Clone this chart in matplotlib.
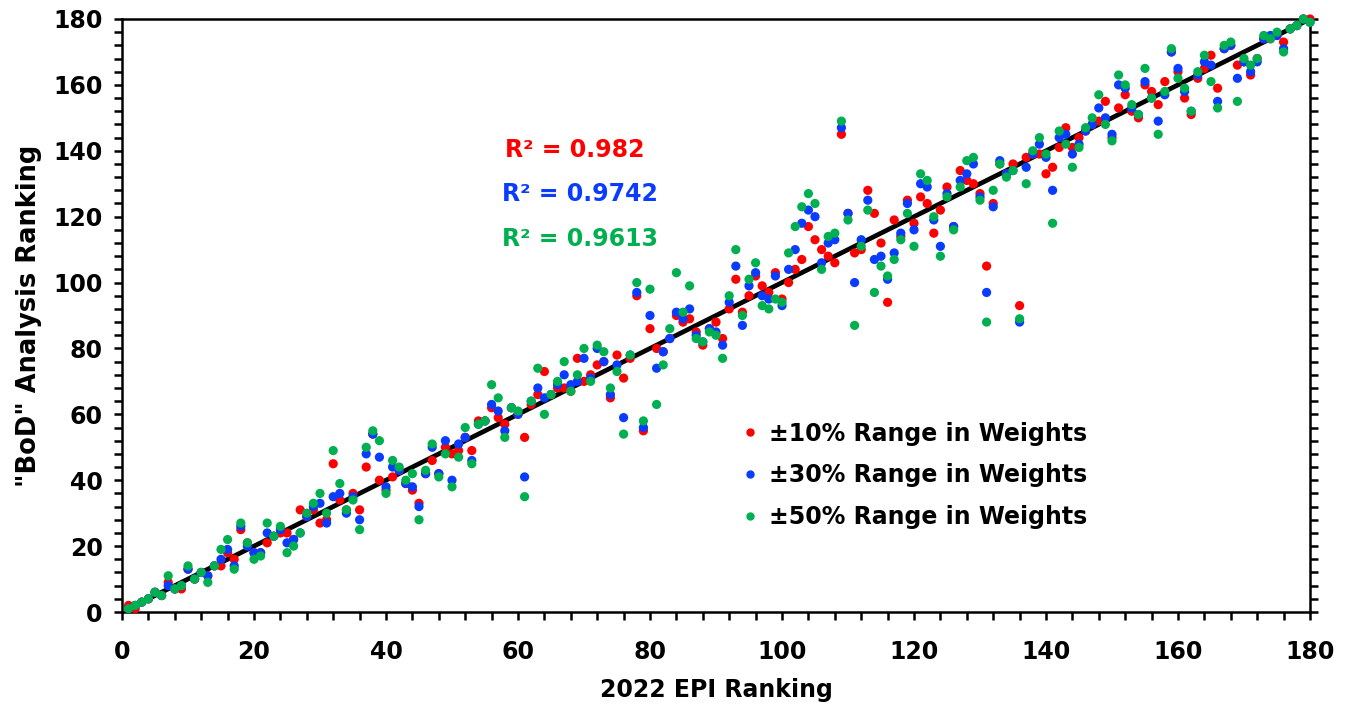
import matplotlib
matplotlib.use("Agg")
import matplotlib.pyplot as plt
from matplotlib.ticker import MultipleLocator
from matplotlib.lines import Line2D

plt.rcParams['font.family'] = ['DejaVu Sans']
plt.rcParams['font.weight'] = 'bold'

epi_rank = list(range(1, 181))

bod_10 = [2, 1, 3, 4, 6, 5, 9, 7, 7, 13, 10, 12, 11, 14, 14, 18, 16, 25, 21, 18,
          18, 21, 23, 24, 24, 22, 31, 29, 31, 27, 28, 45, 34, 31, 36, 31, 44, 54, 40, 37,
          41, 43, 39, 37, 33, 42, 46, 42, 50, 48, 49, 53, 49, 58, 58, 62, 59, 57, 62, 60,
          53, 63, 66, 73, 66, 68, 68, 67, 77, 70, 72, 75, 76, 65, 78, 71, 77, 96, 55, 86,
          80, 79, 83, 90, 88, 89, 85, 81, 86, 88, 83, 92, 101, 91, 96, 102, 99, 97, 103, 95,
          100, 104, 107, 117, 113, 110, 108, 106, 145, 121, 109, 110, 128, 121, 112, 94, 119, 114, 125, 118,
          126, 124, 115, 122, 129, 117, 134, 131, 130, 127, 105, 124, 136, 133, 136, 93, 138, 139, 139, 133,
          135, 141, 147, 141, 144, 146, 148, 149, 155, 144, 153, 157, 152, 150, 160, 158, 154, 161, 170, 164,
          156, 151, 162, 165, 169, 159, 171, 172, 166, 167, 163, 168, 174, 174, 175, 173, 177, 178, 180, 180]

bod_30 = [1, 2, 3, 4, 6, 5, 8, 7, 8, 13, 10, 12, 11, 14, 16, 19, 14, 26, 20, 18,
          18, 24, 23, 25, 21, 22, 24, 29, 32, 33, 27, 35, 36, 30, 35, 28, 48, 54, 47, 38,
          44, 43, 39, 38, 32, 42, 50, 42, 52, 40, 51, 53, 46, 57, 58, 63, 61, 55, 62, 60,
          41, 64, 68, 65, 66, 69, 72, 69, 70, 77, 71, 80, 76, 66, 75, 59, 78, 97, 56, 90,
          74, 79, 83, 91, 89, 92, 84, 82, 86, 85, 81, 94, 105, 87, 99, 103, 96, 95, 102, 93,
          104, 110, 118, 122, 120, 106, 112, 113, 147, 121, 100, 113, 125, 107, 108, 101, 109, 115, 124, 116,
          130, 129, 119, 111, 127, 117, 131, 133, 136, 126, 97, 123, 137, 133, 134, 88, 135, 139, 142, 138,
          128, 144, 145, 139, 142, 146, 148, 153, 150, 145, 160, 159, 153, 151, 161, 156, 149, 157, 170, 165,
          158, 152, 163, 167, 166, 155, 171, 172, 162, 167, 164, 167, 174, 175, 175, 171, 177, 178, 180, 179]

bod_50 = [1, 2, 3, 4, 6, 5, 11, 7, 8, 14, 10, 12, 9, 14, 19, 22, 13, 27, 21, 16,
          17, 27, 23, 26, 18, 20, 24, 30, 33, 36, 30, 49, 39, 31, 34, 25, 50, 55, 52, 36,
          46, 44, 40, 42, 28, 43, 51, 41, 48, 38, 47, 56, 45, 57, 58, 69, 65, 53, 62, 61,
          35, 64, 74, 60, 66, 70, 76, 67, 72, 80, 70, 81, 79, 68, 73, 54, 78, 100, 58, 98,
          63, 75, 86, 103, 91, 99, 83, 82, 85, 84, 77, 96, 110, 90, 101, 106, 93, 92, 95, 94,
          109, 117, 123, 127, 124, 104, 114, 115, 149, 119, 87, 111, 122, 97, 105, 102, 107, 113, 121, 111,
          133, 131, 120, 108, 126, 116, 129, 137, 138, 125, 88, 128, 136, 132, 134, 89, 130, 140, 144, 139,
          118, 146, 142, 135, 141, 147, 150, 157, 148, 143, 163, 160, 154, 151, 165, 156, 145, 158, 171, 162,
          159, 152, 164, 169, 161, 153, 172, 173, 155, 168, 166, 168, 175, 174, 176, 170, 177, 178, 180, 179]

r2_labels = ["R\u00b2 = 0.982", "R\u00b2 = 0.9742", "R\u00b2 = 0.9613"]
series_names = ["\u00b110% Range in Weights", "\u00b130% Range in Weights", "\u00b150% Range in Weights"]
colors = ["#FF0000", "#0A3CFF", "#00B050"]
fit_x = [1, 180]
fit_y = [1, 180]

fig = plt.figure(figsize=(13.49, 7.09), dpi=100)
ax = fig.add_axes([122/1349, 97/709, 1188/1349, 593/709])

ax.plot(fit_x, fit_y, color='black', lw=3.4, zorder=2, solid_capstyle='butt')
for ys, c in zip([bod_10, bod_30, bod_50], colors):
    ax.scatter(epi_rank, ys, s=44, color=c, edgecolors='none', zorder=3, clip_on=False)

ax.set_xlim(0, 180)
ax.set_ylim(0, 180)
ax.xaxis.set_major_locator(MultipleLocator(20))
ax.yaxis.set_major_locator(MultipleLocator(20))
ax.xaxis.set_minor_locator(MultipleLocator(4))
ax.yaxis.set_minor_locator(MultipleLocator(4))
ax.tick_params(which='both', direction='out', length=6, width=1.8, labelsize=17, right=True, top=False)
ax.tick_params(axis='y', which='both', labelright=False)
for sp in ax.spines.values():
    sp.set_linewidth(1.8)
ax.tick_params(axis='x', pad=14)
ax.tick_params(axis='y', pad=8)
for lab in ax.get_xticklabels() + ax.get_yticklabels():
    lab.set_fontweight('bold')

ax.set_xlabel("2022 EPI Ranking", fontsize=17, fontweight='bold', labelpad=10)
ax.set_ylabel("\"BoD\" Analysis Ranking", fontsize=18.5, fontweight='bold', labelpad=8)

ax.text(68.6, 140.3, r2_labels[0], color=colors[0], fontsize=17, fontweight='bold', ha='center', va='center')
ax.text(69.4, 127, r2_labels[1], color=colors[1], fontsize=17, fontweight='bold', ha='center', va='center')
ax.text(69.4, 113.3, r2_labels[2], color=colors[2], fontsize=17, fontweight='bold', ha='center', va='center')

handles = [Line2D([], [], marker='o', ls='none', color=c, markersize=5) for c in colors]
leg = ax.legend(handles, series_names, loc='upper left', bbox_to_anchor=((717-122)/1188, (612-400)/594),
                frameon=False, handletextpad=0.3, labelspacing=0.75, handlelength=1.0,
                prop={'weight': 'bold', 'size': 17})

fig.savefig("out.png", dpi=100)
